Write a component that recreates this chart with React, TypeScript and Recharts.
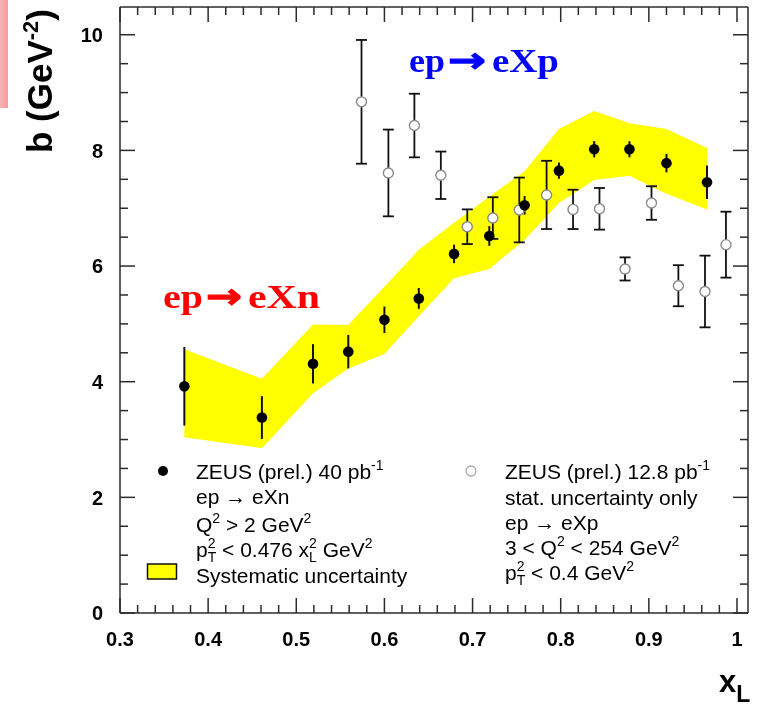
import * as React from "react";
import { ComposedChart, Area, Scatter, ErrorBar, XAxis, YAxis } from "recharts";

// ep -> eXn (ZEUS 40 pb-1), solid points + systematic band
const xnX = [0.373, 0.461, 0.519, 0.559, 0.6, 0.639, 0.679, 0.719, 0.759, 0.798, 0.838, 0.878, 0.92, 0.966];
const xnB = [3.92, 3.38, 4.31, 4.52, 5.07, 5.44, 6.21, 6.52, 7.05, 7.65, 8.02, 8.02, 7.78, 7.45];
const xnStat = [0.68, 0.37, 0.34, 0.29, 0.23, 0.18, 0.16, 0.17, 0.16, 0.14, 0.14, 0.14, 0.16, 0.29];
const xnSysLow = [3.04, 2.85, 3.8, 4.23, 4.48, 5.13, 5.79, 5.95, 6.45, 7.09, 7.49, 7.56, 7.25, 6.98];
const xnSysHigh = [4.56, 4.05, 4.99, 4.98, 5.64, 6.28, 6.75, 7.2, 7.64, 8.37, 8.68, 8.47, 8.37, 8.04];

// ep -> eXp (ZEUS 12.8 pb-1), open points, stat only
const xpX = [0.574, 0.6045, 0.634, 0.664, 0.694, 0.723, 0.753, 0.784, 0.814, 0.844, 0.873, 0.903, 0.9335, 0.9637, 0.9875];
const xpB = [8.84, 7.61, 8.43, 7.57, 6.68, 6.83, 6.97, 7.23, 6.98, 6.99, 5.95, 7.09, 5.66, 5.56, 6.37];
const xpStat = [1.07, 0.75, 0.55, 0.41, 0.3, 0.36, 0.56, 0.59, 0.34, 0.36, 0.2, 0.29, 0.355, 0.62, 0.57];

const xMajorLabels = ["0.3", "0.4", "0.5", "0.6", "0.7", "0.8", "0.9", "1"];
const yMajorLabels = ["0", "2", "4", "6", "8", "10"];

const xnRows = xnX.map((x, i) => ({ x, y: xnB[i], err: xnStat[i], lo: xnSysLow[i], hi: xnSysHigh[i] }));
const xpRows = xpX.map((x, i) => ({ x, y: xpB[i], err: xpStat[i] }));

const xTicks = Array.from({ length: 36 }, (_, i) => +(0.3 + i * 0.02).toFixed(2));
const yTicks = Array.from({ length: 21 }, (_, i) => i * 0.5);
const X_DOMAIN = [0.3, 1.0125];
const Y_DOMAIN = [0, 10.48];

const AXIS = "#2b2b2b";
const FONT = "'Liberation Sans', Arial, Helvetica, sans-serif";
const SERIF = "'Liberation Serif', 'Times New Roman', serif";

const isMajorX = (v: number) => Math.abs(v * 10 - Math.round(v * 10)) < 1e-6;
const isMajorY = (v: number) => Math.abs(v / 2 - Math.round(v / 2)) < 1e-6;
const xLabel = (v: number) => xMajorLabels[Math.round((v - 0.3) * 10)];
const yLabel = (v: number) => yMajorLabels[Math.round(v / 2)];

const BottomTick = ({ x, y, payload }: any) => {
    const v = payload.value;
    const major = isMajorX(v);
    return (
        <g>
            <line x1={x} x2={x} y1={y} y2={y - (major ? 15 : 8)} stroke={AXIS} strokeWidth={1.5} />
            {major && (
                <text x={x} y={y + 33} textAnchor="middle" fontFamily={FONT} fontWeight="bold" fontSize={20} fill="#000">
                    {xLabel(v)}
                </text>
            )}
        </g>
    );
};

const TopTick = ({ x, y, payload }: any) => {
    const major = isMajorX(payload.value);
    return <line x1={x} x2={x} y1={y} y2={y + (major ? 15 : 8)} stroke={AXIS} strokeWidth={1.5} />;
};

const LeftTick = ({ x, y, payload }: any) => {
    const v = payload.value;
    const major = isMajorY(v);
    return (
        <g>
            <line x1={x} x2={x + (major ? 15 : 8)} y1={y} y2={y} stroke={AXIS} strokeWidth={1.5} />
            {major && (
                <text x={x - 17} y={y} dy="0.36em" textAnchor="end" fontFamily={FONT} fontWeight="bold" fontSize={20} fill="#000">
                    {yLabel(v)}
                </text>
            )}
        </g>
    );
};

const RightTick = ({ x, y, payload }: any) => {
    const major = isMajorY(payload.value);
    return <line x1={x} x2={x - (major ? 15 : 8)} y1={y} y2={y} stroke={AXIS} strokeWidth={1.5} />;
};

const SolidDot = (p: any) => <circle cx={p.cx} cy={p.cy} r={5.3} fill="#000" />;
const OpenDot = (p: any) => <circle cx={p.cx} cy={p.cy} r={5} fill="#fff" stroke="#8a8a8a" strokeWidth={1.4} />;
const NoDot = () => <g />;

// text with super/subscripts: n = normal, u = sup, d = sub, s = sup over sub
type Seg = [string, string, string?];
const Rich = ({ x, y, segs }: { x: number; y: number; segs: Seg[] }) => {
    let cur = 0;
    const out: any[] = [];
    segs.forEach(([k, a, b], i) => {
        if (k === "n") {
            out.push(<tspan key={i} dy={0 - cur} fontSize={21}>{a}</tspan>);
            cur = 0;
        } else if (k === "u") {
            out.push(<tspan key={i} dy={-9 - cur} fontSize={14}>{a}</tspan>);
            cur = -9;
        } else if (k === "d") {
            out.push(<tspan key={i} dy={5 - cur} fontSize={14}>{a}</tspan>);
            cur = 5;
        } else {
            out.push(<tspan key={i + "u"} dy={-9 - cur} fontSize={14}>{a}</tspan>);
            out.push(<tspan key={i + "d"} dx={-7.8} dy={14} fontSize={14}>{b}</tspan>);
            cur = 5;
        }
    });
    return (
        <text x={x} y={y} fontFamily={FONT} fill="#000" xmlSpace="preserve">
            {out}
        </text>
    );
};

const Reaction = ({ x, y, color, widths, final }: any) => (
    <g fill={color}>
        <text x={x} y={y} fontFamily={SERIF} fontWeight="bold" fontSize={34} textLength={widths[0]} lengthAdjust="spacingAndGlyphs">ep</text>
        <text x={x + widths[0] + 3} y={y} fontFamily="'DejaVu Sans', sans-serif" fontWeight="bold" fontSize={34}
              stroke={color} strokeWidth={1.2} textLength={widths[1]} lengthAdjust="spacingAndGlyphs">→</text>
        <text x={x + widths[0] + widths[1] + 9} y={y} fontFamily={SERIF} fontWeight="bold" fontSize={34}
              textLength={widths[2]} lengthAdjust="spacingAndGlyphs">{final}</text>
    </g>
);

export default function App() {
    return (
        <div style={{ position: "absolute", left: 0, top: 0, width: 761, height: 705, background: "#fff" }}>
            <style>{`.recharts-area-area{mix-blend-mode:multiply}`}</style>
            <ComposedChart width={761} height={705} data={xnRows} margin={{ top: 6, right: 12, left: 0, bottom: 0 }}>
                <XAxis dataKey="x" type="number" domain={X_DOMAIN} allowDataOverflow ticks={xTicks} interval={0}
                       height={92} tickSize={0} tickMargin={0} tickLine={false} tick={<BottomTick />}
                       axisLine={{ stroke: AXIS, strokeWidth: 1.5 }} />
                <XAxis xAxisId="top" orientation="top" dataKey="x" type="number" domain={X_DOMAIN} allowDataOverflow
                       ticks={xTicks} interval={0} height={1} tickSize={0} tickMargin={0} tickLine={false} tick={<TopTick />}
                       axisLine={{ stroke: AXIS, strokeWidth: 1.5 }} />
                <YAxis type="number" domain={Y_DOMAIN} allowDataOverflow ticks={yTicks} interval={0} width={120}
                       tickSize={0} tickMargin={0} tickLine={false} tick={<LeftTick />}
                       axisLine={{ stroke: AXIS, strokeWidth: 1.5 }} />
                <YAxis yAxisId="right" orientation="right" type="number" domain={Y_DOMAIN} allowDataOverflow ticks={yTicks}
                       interval={0} width={1} tickSize={0} tickMargin={0} tickLine={false} tick={<RightTick />}
                       axisLine={{ stroke: AXIS, strokeWidth: 1.5 }} />
                {/* invisible series so the frame axes on top / right get drawn */}
                <Scatter data={xnRows} dataKey="y" xAxisId="top" yAxisId="right" shape={NoDot} isAnimationActive={false} />
                <Scatter data={xpRows} dataKey="y" shape={OpenDot} isAnimationActive={false}>
                    <ErrorBar dataKey="err" direction="y" width={5.5} stroke="#111" strokeWidth={1.8} isAnimationActive={false} />
                </Scatter>
                <Scatter data={xnRows} dataKey="y" shape={SolidDot} isAnimationActive={false}>
                    <ErrorBar dataKey="err" direction="y" width={0} stroke="#111" strokeWidth={2} isAnimationActive={false} />
                </Scatter>
                <Area type="linear" dataKey={(d: any) => [d.lo, d.hi]} fill="#ffff00" fillOpacity={1} stroke="none"
                      dot={false} activeDot={false} isAnimationActive={false} />
            </ComposedChart>

            <svg width={761} height={705} style={{ position: "absolute", left: 0, top: 0, pointerEvents: "none" }}>
                <defs>
                    <linearGradient id="pink" x1="0" x2="1" y1="0" y2="0">
                        <stop offset="0" stopColor="#f7b4b4" />
                        <stop offset="1" stopColor="#f59a9a" />
                    </linearGradient>
                </defs>
                <rect x={0} y={0} width={8} height={108} fill="url(#pink)" />

                {/* axis titles */}
                <text x={52} y={153} transform="rotate(-90 52 153)" fontFamily={FONT} fontWeight="bold" fontSize={35} fill="#000">
                    <tspan>b (GeV</tspan>
                    <tspan fontSize={22} dy={-14}>-2</tspan>
                    <tspan dy={14}>)</tspan>
                </text>
                <text x={719} y={692} fontFamily={FONT} fontWeight="bold" fontSize={31} fill="#000">
                    <tspan>x</tspan>
                    <tspan fontSize={23} dy={10}>L</tspan>
                </text>

                {/* reaction labels */}
                <Reaction x={163} y={308} color="#ff0000" widths={[40, 36, 72]} final="eXn" />
                <Reaction x={409} y={72} color="#0000ff" widths={[36, 38, 67]} final="eXp" />

                {/* legend, left column */}
                <circle cx={163} cy={471} r={5} fill="#000" />
                <Rich x={196} y={479} segs={[["n", "ZEUS (prel.) 40 pb"], ["u", "-1"]]} />
                <Rich x={196} y={504} segs={[["n", "ep → eXn"]]} />
                <Rich x={196} y={532} segs={[["n", "Q"], ["u", "2"], ["n", " > 2 GeV"], ["u", "2"]]} />
                <Rich x={196} y={557} segs={[["n", "p"], ["s", "2", "T"], ["n", " < 0.476 x"], ["s", "2", "L"], ["n", " GeV"], ["u", "2"]]} />
                <rect x={147.5} y={564} width={29} height={15} fill="#ffff00" stroke="#111" strokeWidth={1.5} />
                <Rich x={196} y={583} segs={[["n", "Systematic uncertainty"]]} />

                {/* legend, right column */}
                <circle cx={471} cy={471} r={5} fill="#fff" stroke="#aaa" strokeWidth={1.3} />
                <Rich x={505} y={479} segs={[["n", "ZEUS (prel.) 12.8 pb"], ["u", "-1"]]} />
                <Rich x={505} y={505} segs={[["n", "stat. uncertainty only"]]} />
                <Rich x={505} y={530} segs={[["n", "ep → eXp"]]} />
                <Rich x={505} y={555} segs={[["n", "3 < Q"], ["u", "2"], ["n", " < 254 GeV"], ["u", "2"]]} />
                <Rich x={505} y={580} segs={[["n", "p"], ["s", "2", "T"], ["n", " < 0.4 GeV"], ["u", "2"]]} />
            </svg>
        </div>
    );
}
